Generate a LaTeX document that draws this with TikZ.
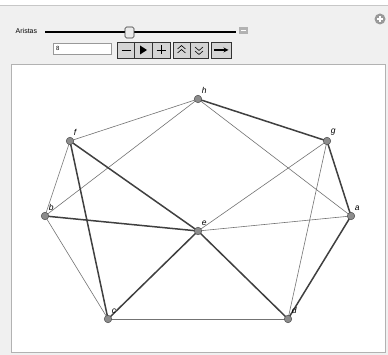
\documentclass[tikz,border=0pt]{standalone}
\usepackage{fontspec}
\newfontfamily\uifont{Liberation Sans}
\usepackage{tikz}
\definecolor{panelbg}{RGB}{240,240,240}
\definecolor{btnbg}{RGB}{212,212,212}
\tikzset{
  vertex/.style={circle,draw=black!70,fill=black!45,inner sep=0pt,minimum size=7.5pt,line width=0.5pt},
  vlabel/.style={font=\uifont\itshape\fontsize{8.5}{9}\selectfont,inner sep=0pt,label distance=2.5pt},
  thinedge/.style={draw=black!55,line width=0.6pt},
  thickedge/.style={draw=black!75,line width=1.5pt},
  uitext/.style={font=\uifont\fontsize{7}{8}\selectfont,inner sep=0pt},
  btn/.style={draw=black!80,fill=btnbg,line width=0.6pt}
}

\begin{document}
\begin{tikzpicture}[x=1pt,y=-1pt]
  \useasboundingbox (0,0) rectangle (388,355);
  % panel and controls
  \fill[panelbg] (0,5) rectangle (388,355);
  \draw[black!22] (0,5.5) -- (388,5.5);
  \fill[black!40] (380,19) circle (5.5); \draw[white,line width=1.4pt] (376.8,19) -- (383.2,19) (380,15.8) -- (380,22.2);
  \node[uitext,anchor=west] (lbl) at (15.5,31) {Aristas};
  \draw[line width=2pt] (45,32.5) -- (236,32.5);
  \draw[draw=black!80,fill=black!8,rounded corners=1.5pt,line width=0.6pt] (125,27) rectangle (134,38);
  \fill[black!30] (239,27) rectangle (248,34); \draw[white,line width=1pt] (241,30.5) -- (246,30.5);
  \draw[black!40,fill=white] (53.5,43) rectangle (111,54);
  \node[uitext,anchor=west,font=\uifont\fontsize{6}{7}\selectfont] (val) at (56,48.5) {8};
  \draw[btn] (117,42) rectangle (170,58); \draw[btn] (134.7,42) -- (134.7,58) (152.3,42) -- (152.3,58);
  \draw[btn] (173,42) rectangle (208,58); \draw[btn] (190.5,42) -- (190.5,58);
  \draw[btn] (211,42) rectangle (231,58);
  \draw[line width=0.9pt] (121.5,50) -- (130.5,50);
  \fill (140,45.5) -- (140,54.5) -- (147,50) -- cycle;
  \draw[line width=0.9pt] (156.5,50) -- (165.5,50) (161,45.5) -- (161,54.5);
  \draw[line width=0.6pt] (177.5,49) -- (181.5,45.5) -- (185.5,49) (177.5,53) -- (181.5,49.5) -- (185.5,53);
  \draw[line width=0.6pt] (195,47) -- (199,50.5) -- (203,47) (195,51) -- (199,54.5) -- (203,51);
  \draw[line width=1.2pt,->,>=stealth] (214,50) -- (228.5,50);
  \draw[black!30,fill=white] (11.5,64.5) rectangle (385,352);
  % graph
  \foreach \n/\x/\y in {a/351/216,b/45/216,c/108/319,d/288/319,e/198/231,f/70/141,g/327/141,h/198/99}
    \coordinate (\n) at (\x,\y);
  \foreach \u/\v in {f/h,b/h,h/a,g/e,g/d,b/f,b/c,c/d,e/a}
    \draw[thinedge] (\u) -- (\v);
  \foreach \u/\v in {h/g,g/a,f/c,f/e,b/e,e/c,e/d,a/d}
    \draw[thickedge] (\u) -- (\v);
  \foreach \n in {a,...,h}
    \node[vertex,label={[vlabel]55:\n}] (v\n) at (\n) {};
\end{tikzpicture}
\end{document}
